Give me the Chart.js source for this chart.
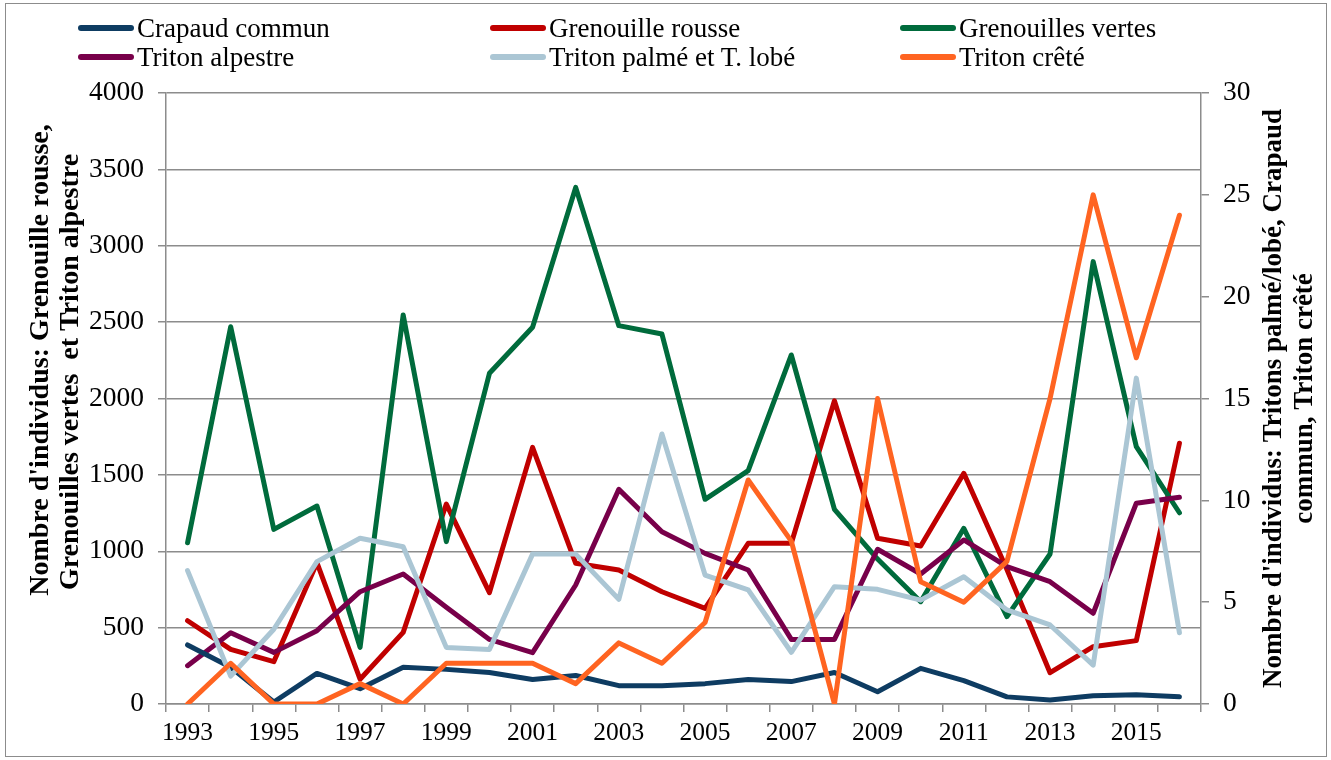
<!DOCTYPE html>
<html lang="fr">
<head>
<meta charset="utf-8" />
<title>Nombre d'individus par espèce, 1993-2016</title>
<script src="https://cdn.jsdelivr.net/npm/chart.js@4.4.1/dist/chart.umd.min.js"></script>
<style>
    html, body { margin: 0; padding: 0; background: #fff; }
    #wrap { position: relative; width: 1331px; height: 760px; }
    #frame { position: absolute; left: 5px; top: 3px; width: 1322px; height: 754px; border: 1px solid #8c8c8c; box-sizing: border-box; pointer-events: none; }
    #legend { position: absolute; left: 0; top: 0; width: 1331px; height: 80px; font: 27px "Liberation Serif", "Times New Roman", serif; color: #000; }
    .item { position: absolute; display: flex; align-items: center; height: 30px; white-space: nowrap; }
    .swatch { display: inline-block; width: 56px; height: 6px; border-radius: 3px; margin-right: 3px; }
    canvas { position: absolute; left: 0; top: 0; }
</style>
</head>
<body>
<div id="wrap">
    <canvas id="chart" width="1331" height="760"></canvas>
    <div id="legend"></div>
    <div id="frame"></div>
</div>

<script>
    // Years
    var years = ['1993', '1994', '1995', '1996', '1997', '1998', '1999', '2000', '2001', '2002', '2003', '2004',
                 '2005', '2006', '2007', '2008', '2009', '2010', '2011', '2012', '2013', '2014', '2015', '2016'];

    // Left axis series (individuals)
    var grenouilleRousse = [545, 358, 277, 925, 162, 469, 1309, 729, 1680, 921, 877, 735,
                            626, 1052, 1052, 1985, 1085, 1034, 1510, 880, 205, 375, 415, 1707];
    var grenouillesVertes = [1056, 2470, 1143, 1296, 371, 2547, 1063, 2165, 2466, 3382, 2477, 2422,
                             1340, 1528, 2285, 1274, 949, 670, 1150, 572, 982, 2896, 1685, 1252];
    var tritonAlpestre = [251, 467, 338, 480, 735, 851, 633, 423, 336, 779, 1405, 1128,
                          986, 877, 423, 423, 1013, 851, 1074, 899, 801, 594, 1314, 1353];

    // Right axis series
    var crapaudCommun = [2.9, 1.8, 0.1, 1.5, 0.75, 1.8, 1.7, 1.55, 1.2, 1.4, 0.9, 0.9,
                         1.0, 1.2, 1.1, 1.55, 0.6, 1.75, 1.15, 0.35, 0.2, 0.4, 0.45, 0.35];
    var tritonPalme = [6.55, 1.37, 3.67, 6.99, 8.14, 7.72, 2.78, 2.68, 7.36, 7.36, 5.14, 13.26,
                       6.33, 5.6, 2.54, 5.76, 5.63, 5.1, 6.25, 4.62, 3.88, 1.91, 16, 3.5];
    var tritonCrete = [0, 2, 0, 0, 1, 0, 2, 2, 2, 1, 3, 2,
                       4, 11, 8, 0, 15, 6, 5, 7, 15, 25, 17, 24];

    var leftTitle = ["Nombre d'individus: Grenouille rousse,", "Grenouilles vertes  et Triton alpestre"];
    var rightTitle = ["Nombre d'individus: Tritons palmé/lobé, Crapaud", "commun, Triton crêté"];

    var serif = '"Liberation Serif", "Times New Roman", serif';
    var gridColor = '#8c8c8c';

    function line(label, data, color, axis, order) {
        return {
            label: label, data: data, yAxisID: axis, order: order,
            borderColor: color, backgroundColor: color,
            borderWidth: 5, pointRadius: 0, tension: 0,
            borderJoinStyle: 'round', borderCapStyle: 'round', fill: false
        };
    }

    // legend order as shown, draw order via `order` (secondary axis on top)
    var datasets = [
        line('Crapaud commun', crapaudCommun, '#0e3c62', 'y1', 3),
        line('Grenouille rousse', grenouilleRousse, '#c00000', 'y', 6),
        line('Grenouilles vertes', grenouillesVertes, '#006b3c', 'y', 5),
        line('Triton alpestre', tritonAlpestre, '#78004a', 'y', 4),
        line('Triton palmé et T. lobé', tritonPalme, '#abc6d4', 'y1', 2),
        line('Triton crêté', tritonCrete, '#ff6421', 'y1', 1)
    ];

    // html legend, 3 columns x 2 rows
    var legendCols = [78, 490, 900];
    var legendRows = [13, 42];
    var legendEl = document.getElementById('legend');
    datasets.forEach(function (ds, i) {
        var item = document.createElement('div');
        item.className = 'item';
        item.style.left = legendCols[i % 3] + 'px';
        item.style.top = legendRows[Math.floor(i / 3)] + 'px';
        item.innerHTML = '<span class="swatch" style="background:' + ds.borderColor + '"></span>' + ds.label;
        legendEl.appendChild(item);
    });

    // rotated two-line axis titles, both reading bottom to top
    var axisTitles = {
        id: 'axisTitles',
        afterDraw: function (chart) {
            var ctx = chart.ctx;
            var area = chart.chartArea;
            ctx.save();
            ctx.fillStyle = '#000';
            ctx.textAlign = 'center';
            ctx.textBaseline = 'middle';
            function put(lines, x0, gap, centers, size) {
                ctx.font = 'bold ' + size + 'px ' + serif;
                lines.forEach(function (txt, i) {
                    ctx.save();
                    ctx.translate(x0 + i * gap, centers[i]);
                    ctx.rotate(-Math.PI / 2);
                    ctx.fillText(txt, 0, 0);
                    ctx.restore();
                });
            }
            var mid = (area.top + area.bottom) / 2;
            put(leftTitle, 41, 30, [360, 372], 28);
            put(rightTitle, 1274, 31, [mid, mid], 27);
            ctx.restore();
        }
    };

    Chart.defaults.font.family = serif;
    Chart.defaults.color = '#000';

    new Chart(document.getElementById('chart'), {
        type: 'line',
        data: { labels: years, datasets: datasets },
        plugins: [axisTitles],
        options: {
            responsive: false,
            animation: false,
            layout: { padding: { top: 93, left: 0, right: 0, bottom: 0 } },
            plugins: { legend: { display: false }, tooltip: { enabled: false } },
            scales: {
                x: {
                    offset: true,
                    grid: { offset: true, drawOnChartArea: false, drawTicks: true, tickLength: 8, color: gridColor, lineWidth: 1.5 },
                    border: { color: gridColor, width: 1.5 },
                    ticks: {
                        autoSkip: false, maxRotation: 0, padding: 6,
                        font: { size: 25.5 },
                        callback: function (v, i) { return i % 2 === 0 ? years[i] : ''; }
                    },
                    afterFit: function (s) { s.height = 56; }
                },
                y: {
                    position: 'left', min: 0, max: 4000,
                    grid: { color: gridColor, lineWidth: 1.5, tickLength: 8 },
                    border: { color: gridColor, width: 1.5 },
                    ticks: { stepSize: 500, padding: 14, font: { size: 27.5 }, callback: function (v) { return String(v); } },
                    afterFit: function (s) { s.width = 166; }
                },
                y1: {
                    position: 'right', min: 0, max: 30,
                    grid: { drawOnChartArea: false, color: gridColor, lineWidth: 1.5, tickLength: 8 },
                    border: { color: gridColor, width: 1.5 },
                    ticks: { stepSize: 5, padding: 14, font: { size: 27.5 }, callback: function (v) { return String(v); } },
                    afterFit: function (s) { s.width = 130; }
                }
            }
        }
    });
</script>
</body>
</html>
